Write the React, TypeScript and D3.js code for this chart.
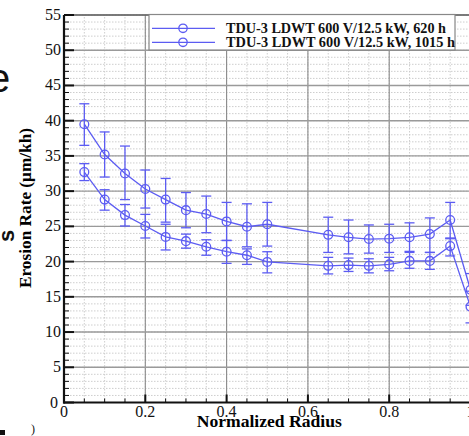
import React from "react";
import * as d3 from "d3";

const radius = [0.05, 0.1, 0.15, 0.2, 0.25, 0.3, 0.35, 0.4, 0.45, 0.5, 0.65, 0.7, 0.75, 0.8, 0.85, 0.9, 0.95, 1.0];
const rateA = [39.5, 35.2, 32.5, 30.3, 28.8, 27.3, 26.75, 25.7, 24.95, 25.3, 23.8, 23.45, 23.2, 23.25, 23.45, 23.9, 25.9, 16.0];
const rateAHi = [42.4, 38.4, 36.4, 33.0, 31.8, 29.8, 29.3, 28.4, 28.2, 28.4, 26.3, 25.9, 25.2, 25.3, 25.5, 26.2, 28.4, 18.3];
const rateALo = [36.5, 32.0, 28.8, 27.6, 25.6, 24.8, 24.1, 23.0, 22.1, 22.2, 21.3, 21.1, 21.2, 21.3, 21.45, 21.3, 23.25, 13.8];
const rateB = [32.7, 28.8, 26.6, 25.05, 23.5, 22.9, 22.1, 21.4, 20.9, 19.95, 19.4, 19.5, 19.4, 19.6, 20.1, 20.1, 22.2, 13.6];
const rateBHi = [33.9, 30.2, 28.1, 26.7, 25.3, 23.9, 23.1, 23.0, 21.8, 21.4, 20.6, 20.5, 20.4, 20.6, 21.3, 21.3, 23.35, 15.8];
const rateBLo = [31.5, 27.3, 25.05, 23.35, 21.65, 21.9, 20.9, 19.75, 19.6, 18.4, 18.25, 18.6, 18.4, 18.7, 19.05, 18.9, 20.8, 11.3];
const legendLabels = ["TDU-3 LDWT 600 V/12.5 kW, 620 h", "TDU-3 LDWT 600 V/12.5 kW, 1015 h"];
const xTicks = [0, 0.2, 0.4, 0.6, 0.8, 1];
const yTicks = [0, 5, 10, 15, 20, 25, 30, 35, 40, 45, 50, 55];

const W = 469, H = 436;
const X0 = 64, X1 = 470.5, Y0 = 402.5, Y1 = 15;
const BLUE = "#5c5cf2";

export default function App() {
  const x = d3.scaleLinear().domain([0, 1]).range([X0, X1]);
  const y = d3.scaleLinear().domain([0, 55]).range([Y0, Y1]);
  const minorX = d3.range(0, 1.0001, 0.05);
  const minorY = d3.range(0, 55.001, 1);
  const line = d3.line<number>().x((_, i) => x(radius[i])).y((v) => y(v));

  const series = [
    { v: rateA, hi: rateAHi, lo: rateALo },
    { v: rateB, hi: rateBHi, lo: rateBLo },
  ];
  const serif = "'Liberation Serif', 'Times New Roman', serif";

  return (
    <svg width={W} height={H} style={{ position: "absolute", left: 0, top: 0, background: "#fff" }} fontFamily={serif}>
      {/* minor grid */}
      {minorX.map((t, i) => (
        <line key={"mx" + i} x1={x(t)} x2={x(t)} y1={Y0} y2={Y1} stroke="#c8c8c8" strokeWidth={0.9} strokeDasharray="1.5,1.5" />
      ))}
      {minorY.map((t, i) => (
        <line key={"my" + i} x1={X0} x2={X1} y1={y(t)} y2={y(t)} stroke="#c8c8c8" strokeWidth={0.9} strokeDasharray="1.5,1.5" />
      ))}
      {/* major grid */}
      {xTicks.slice(1).map((t, i) => (
        <line key={"Mx" + i} x1={x(t)} x2={x(t)} y1={Y0} y2={Y1} stroke="#8a8a8a" strokeWidth={1.1} />
      ))}
      {yTicks.slice(1).map((t, i) => (
        <line key={"My" + i} x1={X0} x2={X1} y1={y(t)} y2={y(t)} stroke="#9a9a9a" strokeWidth={1.4} />
      ))}
      {/* frame */}
      <line x1={X0} x2={X1} y1={Y1} y2={Y1} stroke="#444" strokeWidth={1.2} />
      <line x1={X0} x2={X0} y1={Y0 + 1} y2={Y1} stroke="#111" strokeWidth={2.2} />
      <line x1={X0 - 1} x2={X1} y1={Y0} y2={Y0} stroke="#111" strokeWidth={2.2} />
      {/* ticks */}
      {minorY.map((t, i) => (
        <line key={"ty" + i} x1={X0} x2={X0 + (t % 5 === 0 ? 10 : 5)} y1={y(t)} y2={y(t)} stroke="#111" strokeWidth={t % 5 === 0 ? 2 : 1} />
      ))}
      {minorX.map((t, i) => {
        const major = Math.abs(t * 5 - Math.round(t * 5)) < 1e-6;
        return <line key={"tx" + i} x1={x(t)} x2={x(t)} y1={Y0} y2={Y0 - (major ? 8 : 4)} stroke="#111" strokeWidth={major ? 2 : 1} />;
      })}
      {/* tick labels */}
      {yTicks.map((t) => (
        <text key={"ly" + t} x={t === 0 ? 58 : 61} y={y(t) + 5} textAnchor="end" fontSize={16} fill="#111">{d3.format("d")(t)}</text>
      ))}
      {xTicks.map((t) => (
        <text key={"lx" + t} x={x(t)} y={417} textAnchor="middle" fontSize={16} fill="#111">{d3.format("~g")(t)}</text>
      ))}
      {/* axis titles */}
      <text x={(X0 + X1) / 2 + 2} y={427} textAnchor="middle" fontSize={17} fontWeight="bold" textLength={145} lengthAdjust="spacingAndGlyphs">Normalized Radius</text>
      <text transform={`translate(31, 208) rotate(-90)`} textAnchor="middle" fontSize={17} fontWeight="bold" textLength={160} lengthAdjust="spacingAndGlyphs">Erosion Rate (μm/kh)</text>
      {/* series */}
      {series.map((s, si) => (
        <g key={"s" + si} stroke={BLUE} fill="none" strokeWidth={1.3}>
          <path d={line(s.v) || ""} />
          {s.v.map((v, i) => (
            <g key={i}>
              <line x1={x(radius[i])} x2={x(radius[i])} y1={y(s.hi[i])} y2={y(s.lo[i])} />
              <line x1={x(radius[i]) - 5} x2={x(radius[i]) + 5} y1={y(s.hi[i])} y2={y(s.hi[i])} />
              <line x1={x(radius[i]) - 5} x2={x(radius[i]) + 5} y1={y(s.lo[i])} y2={y(s.lo[i])} />
              <circle cx={x(radius[i])} cy={y(v)} r={4.4} />
            </g>
          ))}
        </g>
      ))}
      {/* legend */}
      <rect x={149} y={14.5} width={306} height={35.5} fill="#fff" stroke="#888" strokeWidth={1.2} />
      {legendLabels.map((l, i) => (
        <g key={"lg" + i}>
          <line x1={152} x2={215} y1={28.3 + i * 14} y2={28.3 + i * 14} stroke={BLUE} strokeWidth={1.3} />
          <circle cx={183} cy={28.3 + i * 14} r={4.2} fill="none" stroke={BLUE} strokeWidth={1.3} />
          <text x={226} y={33 + i * 14} fontSize={14} fontWeight="bold" fill="#111" textLength={i === 0 ? 220 : 229} lengthAdjust="spacingAndGlyphs">{l}</text>
        </g>
      ))}
      {/* cropped fragments of neighbouring panel */}
      <text x={-12} y={92} fontSize={40} fontFamily="'Liberation Sans', Arial, sans-serif" fill="#111">e</text>
      <text transform="translate(14, 242) rotate(-90)" fontSize={22} fontWeight="bold" fontFamily="'Liberation Sans', Arial, sans-serif" fill="#111">s</text>
      <text x={31} y={433} fontSize={12} fill="#111">)</text>
      <rect x={0} y={430} width={5} height={5} fill="#111" />
    </svg>
  );
}
